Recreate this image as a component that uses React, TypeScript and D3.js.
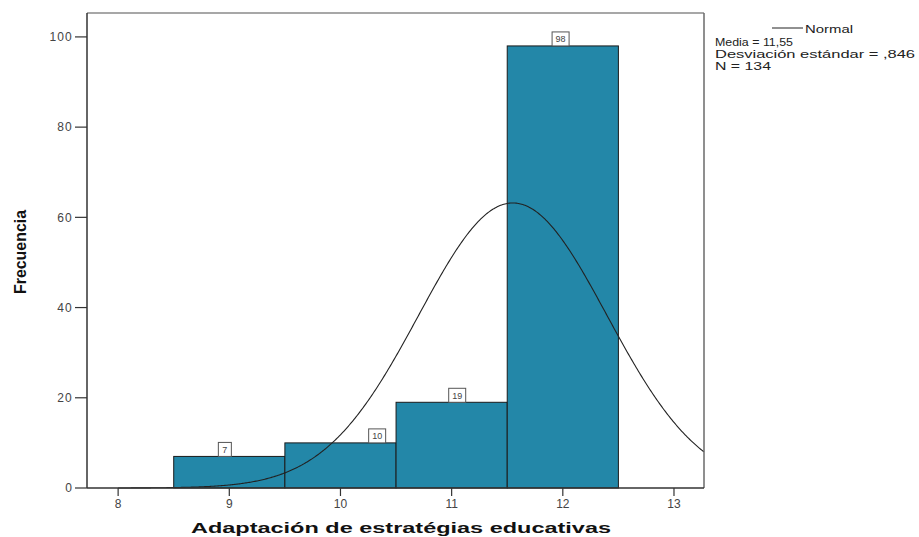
import * as d3 from 'd3';

// histogram bins (value = centre of a bin of width 1)
const BIN_CENTERS = [9, 10, 11, 12];
const BIN_COUNTS = [7, 10, 19, 98];
const X_TICKS = [8, 9, 10, 11, 12, 13];
const Y_TICKS = [0, 20, 40, 60, 80, 100];

// stats shown in the legend
const MEAN = 11.55;
const SD = 0.846;
const N = 134;
const LEGEND_LINES = ['Media = 11,55', 'Desviación estándar = ,846', 'N = 134'];
const LEGEND_WIDTHS = [78, 200, 56];

// where SPSS nudged each count box, in x units from the bin centre
const LABEL_NUDGE = [-0.04, 0.33, 0.05, -0.02];

const WIDTH = 919;
const HEIGHT = 537;
const PLOT = { left: 87, top: 13, right: 704, bottom: 488 };
const BAR_FILL = '#2387a8';

export default function App() {
  const x = d3.scaleLinear().domain([7.72, 13.27]).range([PLOT.left, PLOT.right]);
  const y = d3.scaleLinear().domain([0, 105.3]).range([PLOT.bottom, PLOT.top]);

  const peak = (N * 1) / (SD * Math.sqrt(2 * Math.PI));
  const normal = (v: number) => peak * Math.exp(-0.5 * ((v - MEAN) / SD) ** 2);
  const curveXs = d3.range(8, 13.27, 0.01).concat([13.27]);
  const curvePath =
    d3
      .line<number>()
      .x((v) => x(v))
      .y((v) => y(normal(v)))(curveXs) ?? '';

  const font = 'Arial, "Liberation Sans", sans-serif';

  return (
    <svg
      width={WIDTH}
      height={HEIGHT}
      viewBox={`0 0 ${WIDTH} ${HEIGHT}`}
      style={{ position: 'absolute', left: 0, top: 0, background: '#fff' }}
      fontFamily={font}
    >
      {/* Bars */}
      {BIN_CENTERS.map((c, i) => (
        <rect
          key={c}
          x={x(c - 0.5)}
          y={y(BIN_COUNTS[i])}
          width={x(c + 0.5) - x(c - 0.5)}
          height={y(0) - y(BIN_COUNTS[i])}
          fill={BAR_FILL}
          stroke="#1b1b1b"
          strokeWidth={1}
        />
      ))}

      {/* Normal curve */}
      <path d={curvePath} fill="none" stroke="#222" strokeWidth={1.1} />

      {/* Count boxes */}
      {BIN_CENTERS.map((c, i) => {
        const label = String(BIN_COUNTS[i]);
        const w = label.length > 1 ? 17 : 13;
        const cx = x(c + LABEL_NUDGE[i]);
        const top = y(BIN_COUNTS[i]);
        return (
          <g key={`lab-${c}`}>
            <rect
              x={cx - w / 2}
              y={top - 14}
              width={w}
              height={14}
              fill="#fff"
              stroke="#555"
              strokeWidth={1}
            />
            <text x={cx} y={top - 3.5} textAnchor="middle" fontSize={9} fill="#444">
              {label}
            </text>
          </g>
        );
      })}

      {/* Frame */}
      <line x1={PLOT.left} y1={PLOT.top} x2={PLOT.right} y2={PLOT.top} stroke="#8a8a8a" strokeWidth={1.5} />
      <line x1={PLOT.right} y1={PLOT.top} x2={PLOT.right} y2={PLOT.bottom} stroke="#6a6a6a" strokeWidth={1.5} />
      <line x1={PLOT.left} y1={PLOT.top} x2={PLOT.left} y2={PLOT.bottom} stroke="#333" strokeWidth={1.5} />
      <line x1={PLOT.left} y1={PLOT.bottom} x2={PLOT.right} y2={PLOT.bottom} stroke="#333" strokeWidth={1.5} />

      {/* Y axis */}
      {Y_TICKS.map((t) => (
        <g key={`y-${t}`}>
          <line x1={PLOT.left - 12} y1={y(t)} x2={PLOT.left} y2={y(t)} stroke="#333" strokeWidth={1.2} />
          <text
            x={PLOT.left - 14}
            y={y(t)}
            dy="0.35em"
            textAnchor="end"
            fontSize={12}
            letterSpacing={1.2}
            fill="#444"
          >
            {t}
          </text>
        </g>
      ))}

      {/* X axis */}
      {X_TICKS.map((t) => (
        <g key={`x-${t}`}>
          <line x1={x(t)} y1={PLOT.bottom} x2={x(t)} y2={PLOT.bottom + 8} stroke="#333" strokeWidth={1.2} />
          <text x={x(t)} y={PLOT.bottom + 20} textAnchor="middle" fontSize={12} fill="#444">
            {t}
          </text>
        </g>
      ))}

      {/* Axis titles */}
      <text
        x={401}
        y={533}
        textAnchor="middle"
        fontSize={15}
        fontWeight={700}
        fill="#111"
        textLength={420}
        lengthAdjust="spacingAndGlyphs"
      >
        Adaptación de estratégias educativas
      </text>
      <text
        transform="translate(26,252) rotate(-90)"
        textAnchor="middle"
        fontSize={16}
        fontWeight={700}
        fill="#111"
        textLength={84}
        lengthAdjust="spacingAndGlyphs"
      >
        Frecuencia
      </text>

      {/* Legend */}
      <line x1={772} y1={28} x2={803} y2={28} stroke="#222" strokeWidth={1} />
      <text x={805} y={33} fontSize={11} fill="#222" textLength={48} lengthAdjust="spacingAndGlyphs">
        Normal
      </text>
      {LEGEND_LINES.map((s, i) => (
        <text
          key={s}
          x={715}
          y={46 + i * 12}
          fontSize={11}
          fill="#222"
          textLength={LEGEND_WIDTHS[i]}
          lengthAdjust="spacingAndGlyphs"
        >
          {s}
        </text>
      ))}
    </svg>
  );
}
